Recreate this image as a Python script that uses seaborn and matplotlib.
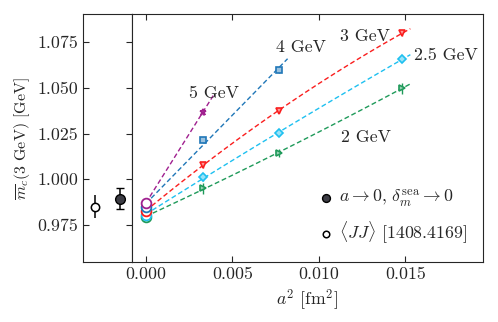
import numpy as np
import pandas as pd
import matplotlib
matplotlib.use("Agg")
import matplotlib.pyplot as plt
import matplotlib.colors as mcolors
import seaborn as sns

# data
a2 = [0.0033, 0.0077, 0.0148]

m_2gev = [0.9952, 1.0143, 1.0497]
m_25gev = [1.0012, 1.0252, 1.0655]
m_3gev = [1.0078, 1.0376, 1.0797]
m_4gev = [1.0215, 1.0598]
m_5gev = [1.0367]

err_2gev = [0.003, 0.002, 0.003]
err_25gev = [0.002, 0.0015, 0.0015]
err_3gev = [0.0015, 0.0015, 0.0015]
err_4gev = [0.0015, 0.0015]
err_5gev = [0.0015]

# continuum values at a^2 = 0
m0 = {"2 GeV": 0.9794, "2.5 GeV": 0.9805, "3 GeV": 0.9827, "4 GeV": 0.9850, "5 GeV": 0.9870}
err0 = {"2 GeV": 0.0025, "2.5 GeV": 0.002, "3 GeV": 0.002, "4 GeV": 0.002, "5 GeV": 0.003}

# final results
final_val = 0.9895
final_err = 0.0055
jj_val = 0.985
jj_err = 0.0063

series = [
    ("2 GeV", m_2gev, err_2gev, "#1f9a5a", ">", 0.0153, (0.01273, 1.0231)),
    ("2.5 GeV", m_25gev, err_25gev, "#1ec0f0", "D", 0.0153, (0.01736, 1.0679)),
    ("3 GeV", m_3gev, err_3gev, "#fa1e1e", "v", 0.0153, (0.01268, 1.0783)),
    ("4 GeV", m_4gev, err_4gev, "#2077b8", "s", 0.0082, (0.00897, 1.0723)),
    ("5 GeV", m_5gev, err_5gev, "#a0208f", "*", 0.0039, (0.00394, 1.0471)),
]

fs = 12.8

sns.set_style("ticks")
plt.rcParams["font.family"] = ["cmr10", "DejaVu Serif"]
plt.rcParams["mathtext.fontset"] = "cm"
plt.rcParams["axes.formatter.use_mathtext"] = True
plt.rcParams["axes.unicode_minus"] = False

fig = plt.figure(figsize=(4.98, 3.22), dpi=100)
axl = fig.add_axes([0.1667, 0.1863, 0.0984, 0.770])
ax = fig.add_axes([0.265, 0.1863, 0.7048, 0.770], sharey=axl)

for name, vals, errs, col, mk, xend, lab in series:
    xs = [0.0] + a2[:len(vals)]
    ys = [m0[name]] + vals
    deg = 2 if len(xs) > 3 else 1
    coef = np.polyfit(xs, ys, deg)
    xf = np.linspace(0, xend, 60)
    fit = pd.DataFrame({"x": xf, "y": np.polyval(coef, xf)})
    sns.lineplot(data=fit, x="x", y="y", ax=ax, color=col, lw=1.0,
                 linestyle=(0, (3.5, 2.0)), zorder=2)
    light = tuple(0.45 * np.array(mcolors.to_rgb(col)) + 0.55)
    ax.errorbar(a2[:len(vals)], vals, yerr=errs, fmt=mk, color=col, ms=4.5,
                mfc=light, mec=col, mew=1.2, elinewidth=1.0, capsize=0, zorder=3)
    ax.errorbar([0.0], [m0[name]], yerr=[err0[name]], fmt="o", color=col, ms=7,
                mfc="white", mec=col, mew=1.3, elinewidth=1.0, zorder=3)
    ax.text(lab[0], lab[1], name, ha="center", va="center", fontsize=fs)

# left panel: final results
axl.errorbar([0.245], [jj_val], yerr=[jj_err], fmt="o", color="black", ms=6,
             mfc="white", mec="black", mew=1.1, elinewidth=1.1, capsize=0)
axl.errorbar([0.755], [final_val], yerr=[final_err], fmt="o", color="black",
             ms=7, mfc="#3d3d45", mec="black", elinewidth=1.1, capsize=3)

h1 = ax.scatter([], [], s=32, color="#3d3d45", edgecolor="black")
h2 = ax.scatter([], [], s=22, facecolor="white", edgecolor="black", linewidth=1.1)
ax.legend([h1, h2], [r"$a \rightarrow 0,\, \delta_m^{\mathrm{sea}} \rightarrow 0$",
                     r"$\langle JJ \rangle$ [1408.4169]"],
          loc="lower right", frameon=False, fontsize=fs, handletextpad=0.1,
          borderaxespad=0.5, labelspacing=0.6, handlelength=1.2)

axl.set_xlim(0, 1)
axl.set_xticks([])
axl.set_ylim(0.9548, 1.0903)
axl.set_yticks([0.975, 1.000, 1.025, 1.050, 1.075])
axl.yaxis.set_major_formatter(matplotlib.ticker.FormatStrFormatter("%.3f"))
axl.tick_params(axis="y", direction="in", right=True, labelsize=fs, length=4)
axl.set_ylabel(r"$\overline{m}_c(3\ \mathrm{GeV})$ [GeV]", fontsize=11.5)

ax.set_xlim(-0.0008, 0.0195)
ax.set_xticks([0.0, 0.005, 0.010, 0.015])
ax.xaxis.set_major_formatter(matplotlib.ticker.FormatStrFormatter("%.3f"))
ax.tick_params(axis="x", direction="in", top=True, labelsize=fs, length=4)
ax.tick_params(axis="y", left=False, labelleft=False)
ax.set_xlabel(r"$a^2$ [fm$^2$]", fontsize=fs)
ax.set_ylabel("")

for a in (ax, axl):
    for s in a.spines.values():
        s.set_linewidth(0.8)

fig.savefig("out.png", dpi=100)
